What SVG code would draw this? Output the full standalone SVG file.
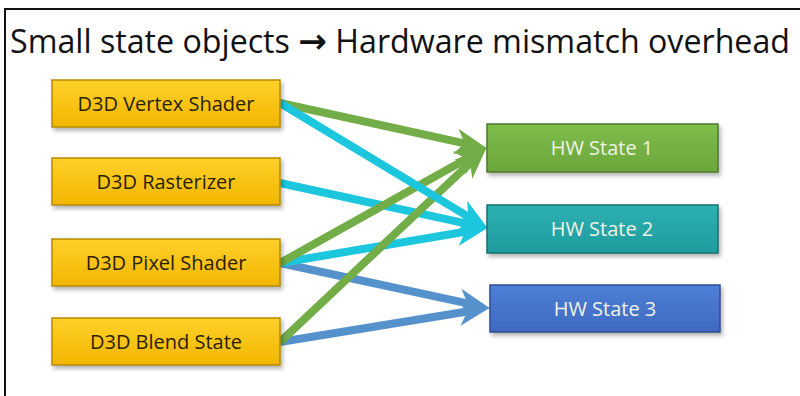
<svg xmlns="http://www.w3.org/2000/svg" width="800" height="396" viewBox="0 0 800 396">
<defs>
<style>
.title{font-family:"Open Sans","Liberation Sans",sans-serif;font-size:32px;fill:#111}
.arr{font-family:"DejaVu Sans",sans-serif;font-weight:bold;font-size:34px}
.lbl{font-family:"Open Sans","Liberation Sans",sans-serif;font-size:20px;font-weight:500;text-anchor:middle}
.dark{fill:#2a1e00}
.light{fill:#EEF3E6}
.conn{fill:none;stroke-width:8;stroke-linecap:butt}
</style>
<linearGradient id="gY" x1="0" y1="0" x2="0" y2="1"><stop offset="0" stop-color="#FFD02A"/><stop offset="1" stop-color="#F2B600"/></linearGradient>
<linearGradient id="gG" x1="0" y1="0" x2="0" y2="1"><stop offset="0" stop-color="#7FBD4C"/><stop offset="1" stop-color="#6BA63C"/></linearGradient>
<linearGradient id="gT" x1="0" y1="0" x2="0" y2="1"><stop offset="0" stop-color="#2DB0B2"/><stop offset="1" stop-color="#1F9B9D"/></linearGradient>
<linearGradient id="gB" x1="0" y1="0" x2="0" y2="1"><stop offset="0" stop-color="#507FD6"/><stop offset="1" stop-color="#3E69C0"/></linearGradient>
<filter id="sh" x="-10%" y="-20%" width="125%" height="160%"><feDropShadow dx="2" dy="3" stdDeviation="2" flood-color="#000" flood-opacity="0.3"/></filter>
<marker id="aG" markerUnits="userSpaceOnUse" markerWidth="32" markerHeight="32" viewBox="0 0 32 32" refX="9" refY="16" orient="auto"><path d="M0,3 L32,16 L0,29 L9,16 z" fill="#72AD48"/></marker>
<marker id="aC" markerUnits="userSpaceOnUse" markerWidth="32" markerHeight="32" viewBox="0 0 32 32" refX="9" refY="16" orient="auto"><path d="M0,3 L32,16 L0,29 L9,16 z" fill="#1CC6DC"/></marker>
<marker id="aB" markerUnits="userSpaceOnUse" markerWidth="32" markerHeight="32" viewBox="0 0 32 32" refX="9" refY="16" orient="auto"><path d="M0,3 L32,16 L0,29 L9,16 z" fill="#5592CC"/></marker>
</defs>
<rect width="800" height="396" fill="#fff"/>
<path d="M5,396 V9 H800" fill="none" stroke="#111" stroke-width="2"/>
<text class="title" x="10" y="53" textLength="780" lengthAdjust="spacingAndGlyphs">Small state objects <tspan class="arr">→</tspan> Hardware mismatch overhead</text>

<g id="connectors">
<line class="conn" stroke="#5592CC" x1="280" y1="263" x2="467.5" y2="303.4" marker-end="url(#aB)"/>
<line class="conn" stroke="#5592CC" x1="280" y1="342" x2="467.3" y2="311.5" marker-end="url(#aB)"/>
<line class="conn" stroke="#1CC6DC" x1="280" y1="183" x2="465.5" y2="223.3" marker-end="url(#aC)"/>
<line class="conn" stroke="#1CC6DC" x1="280" y1="263" x2="465.3" y2="231.7" marker-end="url(#aC)"/>
<line class="conn" stroke="#72AD48" x1="280" y1="263" x2="466.8" y2="158.7" marker-end="url(#aG)"/>
<line class="conn" stroke="#72AD48" x1="280" y1="342" x2="470.0" y2="163.1" marker-end="url(#aG)"/>
<line class="conn" stroke="#72AD48" x1="280" y1="103" x2="464.5" y2="143.3" marker-end="url(#aG)"/>
<line class="conn" stroke="#1CC6DC" x1="280" y1="103" x2="468.2" y2="216.6" marker-end="url(#aC)"/>
</g>

<g id="vertex-shader">
<rect x="52" y="80" width="228" height="47" fill="url(#gY)" stroke="#B58A00" stroke-width="1.5" filter="url(#sh)"/>
<text class="lbl dark" x="166" y="110.5">D3D Vertex Shader</text>
</g>
<g id="rasterizer">
<rect x="52" y="158" width="228" height="47" fill="url(#gY)" stroke="#B58A00" stroke-width="1.5" filter="url(#sh)"/>
<text class="lbl dark" x="166" y="188.5">D3D Rasterizer</text>
</g>
<g id="pixel-shader">
<rect x="52" y="239" width="228" height="47" fill="url(#gY)" stroke="#B58A00" stroke-width="1.5" filter="url(#sh)"/>
<text class="lbl dark" x="166" y="269.5">D3D Pixel Shader</text>
</g>
<g id="blend-state">
<rect x="52" y="318" width="228" height="47" fill="url(#gY)" stroke="#B58A00" stroke-width="1.5" filter="url(#sh)"/>
<text class="lbl dark" x="166" y="348.5">D3D Blend State</text>
</g>

<g id="hw-state-1">
<rect x="487" y="124" width="231" height="48" fill="url(#gG)" stroke="#4E7A2C" stroke-width="1.5" filter="url(#sh)"/>
<text class="lbl light" x="602" y="155">HW State 1</text>
</g>
<g id="hw-state-2">
<rect x="487" y="205" width="231" height="48" fill="url(#gT)" stroke="#17706F" stroke-width="1.5" filter="url(#sh)"/>
<text class="lbl light" x="602" y="236">HW State 2</text>
</g>
<g id="hw-state-3">
<rect x="490" y="285" width="230" height="47" fill="url(#gB)" stroke="#2E4E90" stroke-width="1.5" filter="url(#sh)"/>
<text class="lbl light" x="605" y="316">HW State 3</text>
</g>
</svg>
